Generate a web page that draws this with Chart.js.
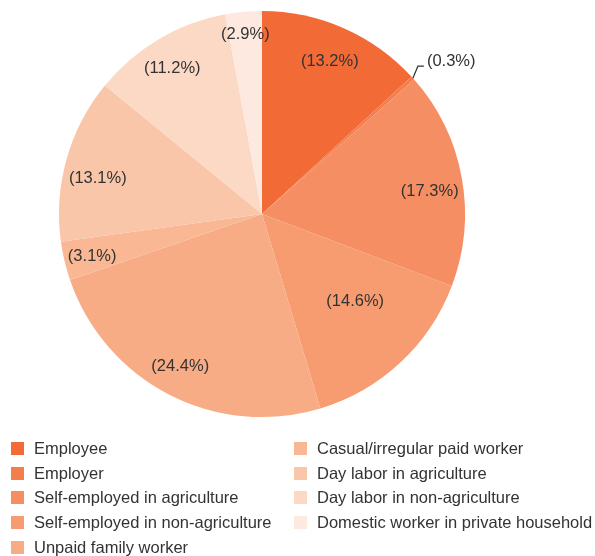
<!DOCTYPE html>
<html>
<head>
<meta charset="utf-8">
<script src="https://cdn.jsdelivr.net/npm/chart.js@4"></script>
<style>
  html, body { margin: 0; padding: 0; background: #fff; }
  #wrap { position: relative; width: 595px; height: 556px; overflow: hidden; }
  #legend { position: absolute; left: 0; top: 0; width: 595px; height: 556px; pointer-events: none;
            font-family: "Liberation Sans", Arial, sans-serif; font-size: 16.5px; color: #333; }
  .item { position: absolute; white-space: nowrap; line-height: 18px; }
  .box { position: absolute; width: 13px; height: 13px; top: 3px; }
  .txt { position: absolute; left: 23px; top: 0; }
</style>
</head>
<body>
<div id="wrap">
  <canvas id="pieChart" width="595" height="556"></canvas>
  <div id="legend"></div>
</div>
<script>
const categories = ['Employee', 'Employer', 'Self-employed in agriculture', 'Self-employed in non-agriculture',
    'Unpaid family worker', 'Casual/irregular paid worker', 'Day labor in agriculture',
    'Day labor in non-agriculture', 'Domestic worker in private household'];
const shares = [13.2, 0.3, 17.3, 14.6, 24.4, 3.1, 13.1, 11.2, 2.9];
const colors = ['#F26A35', '#F47D4C', '#F58E63', '#F69C70', '#F8AC85', '#F9B893', '#FAC6A9', '#FCD9C5', '#FDE9DF'];
// label placement: share of radius, and a small pixel nudge
const labelRadius = [0.83, 0, 0.84, 0.63, 0.85, 0.86, 0.83, 0.84, 0.9];
const labelNudge = [[0, 2], [0, 0], [0, 8], [6, -6], [-3, -1], [0, 2], [-2, 10], [-3, 1], [0, 2]];

const pctLabels = {
    id: 'pctLabels',
    afterDatasetsDraw(chart) {
        const ctx = chart.ctx;
        const arcs = chart.getDatasetMeta(0).data;
        ctx.save();
        ctx.font = '16.5px "Liberation Sans", Arial, sans-serif';
        ctx.fillStyle = '#333';
        ctx.textAlign = 'center';
        ctx.textBaseline = 'middle';
        arcs.forEach((arc, i) => {
            const mid = (arc.startAngle + arc.endAngle) / 2;
            const txt = '(' + shares[i].toFixed(1) + '%)';
            if (shares[i] < 1) {
                // small slice: leader line out to the side
                const r = arc.outerRadius;
                const x0 = arc.x + Math.cos(mid) * r, y0 = arc.y + Math.sin(mid) * r;
                const x1 = x0 + 5, y1 = y0 - 12;
                ctx.strokeStyle = '#333';
                ctx.lineWidth = 1.2;
                ctx.beginPath();
                ctx.moveTo(x0, y0);
                ctx.lineTo(x1, y1);
                ctx.lineTo(x1 + 6, y1);
                ctx.stroke();
                ctx.textAlign = 'left';
                ctx.fillText(txt, x1 + 9, y1 - 5);
                ctx.textAlign = 'center';
                return;
            }
            const r = arc.outerRadius * labelRadius[i];
            ctx.fillText(txt, arc.x + Math.cos(mid) * r + labelNudge[i][0], arc.y + Math.sin(mid) * r + labelNudge[i][1]);
        });
        ctx.restore();
    }
};

new Chart(document.getElementById('pieChart'), {
    type: 'pie',
    data: { labels: categories, datasets: [{ data: shares, backgroundColor: colors, borderWidth: 0 }] },
    options: {
        responsive: false,
        animation: false,
        layout: { padding: { left: 59, top: 11, right: 130, bottom: 139 } },
        plugins: { legend: { display: false }, tooltip: { enabled: false } }
    },
    plugins: [pctLabels]
});

// legend in two columns below the pie
const legend = document.getElementById('legend');
categories.forEach((name, i) => {
    const col = i < 5 ? 0 : 1;
    const row = i < 5 ? i : i - 5;
    const item = document.createElement('div');
    item.className = 'item';
    item.style.left = (col ? 294 : 11) + 'px';
    item.style.top = (439 + row * 24.7) + 'px';
    item.innerHTML = '<span class="box" style="background:' + colors[i] + '"></span><span class="txt">' + name + '</span>';
    legend.appendChild(item);
});
</script>
</body>
</html>
